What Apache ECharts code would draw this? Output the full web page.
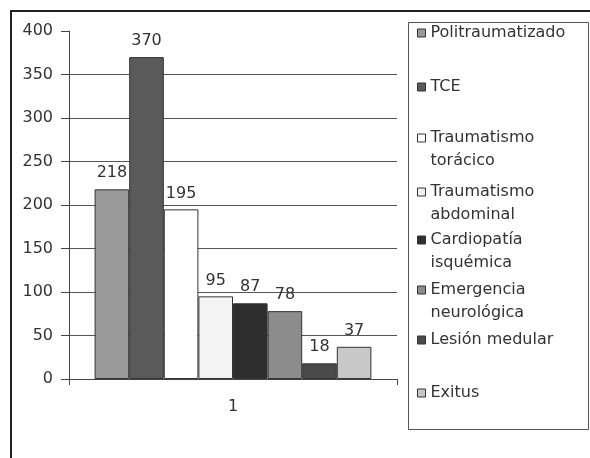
<!DOCTYPE html>
<html>
<head>
<meta charset="utf-8">
<script src="https://cdn.jsdelivr.net/npm/echarts@6/dist/echarts.min.js"></script>
<style>
  html, body { margin: 0; padding: 0; background: #fff; }
  #chart { width: 590px; height: 458px; }
</style>
</head>
<body>
<div id="chart"></div>
<script>
// Single category on the x axis
var categories = ['1'];

// One series per case type
var seriesNames = [
  'Politraumatizado',
  'TCE',
  'Traumatismo torácico',
  'Traumatismo abdominal',
  'Cardiopatía isquémica',
  'Emergencia neurológica',
  'Lesión medular',
  'Exitus'
];
var seriesValues = [218, 370, 195, 95, 87, 78, 18, 37];

// Legend wording, split where the text wraps
var legendLines = [
  ['Politraumatizado'],
  ['TCE'],
  ['Traumatismo', 'torácico'],
  ['Traumatismo', 'abdominal'],
  ['Cardiopatía', 'isquémica'],
  ['Emergencia', 'neurológica'],
  ['Lesión medular'],
  ['Exitus']
];

// Y axis ticks
var yTicks = [0, 50, 100, 150, 200, 250, 300, 350, 400];

// Fill greys for the bars
var fills = ['#9a9a9a', '#5a5a5a', '#ffffff', '#f3f3f3', '#2e2e2e', '#8c8c8c', '#4a4a4a', '#c8c8c8'];

// Vertical centre of each legend marker
var legendMarkerY = [33, 87, 138, 192, 240, 290, 340, 393];

var FONT = 'DejaVu Sans';
var TEXT = '#333333';
var FONT_SIZE = 16;
var LINE_H = 23;

var chart = echarts.init(document.getElementById('chart'), null, { renderer: 'canvas' });

var series = seriesNames.map(function (name, i) {
  return {
    name: name,
    type: 'bar',
    data: [seriesValues[i]],
    barWidth: 34.6,
    barGap: '0%',
    itemStyle: { color: fills[i], borderColor: '#333', borderWidth: 1 },
    label: {
      show: true,
      position: 'top',
      distance: 8,
      color: TEXT,
      fontFamily: FONT,
      fontSize: FONT_SIZE
    },
    emphasis: { disabled: true }
  };
});

// One legend per entry so each can sit at its own height.
// Wrapped entries get an empty leading line so that the first
// text line lines up with the marker (the text block is centred on it).
var legends = seriesNames.map(function (name, i) {
  var lines = legendLines[i];
  var twoLine = lines.length > 1;
  var text = twoLine ? ['', lines[0], lines[1]].join('\n') : lines[0];
  return {
    data: [name],
    orient: 'vertical',
    left: 417,
    top: legendMarkerY[i] - (twoLine ? LINE_H * 1.5 : LINE_H / 2),
    padding: 0,
    itemWidth: 8,
    itemHeight: 8,
    itemGap: 0,
    icon: 'rect',
    selectedMode: false,
    itemStyle: { borderColor: '#333', borderWidth: 1 },
    formatter: function () { return text; },
    textStyle: {
      fontFamily: FONT,
      fontSize: FONT_SIZE,
      color: TEXT,
      lineHeight: LINE_H
    }
  };
});

// Split lines every tick except the top one
var splitColors = yTicks.map(function (t, i) {
  return i === yTicks.length - 1 ? 'rgba(0,0,0,0)' : '#555555';
});

chart.setOption({
  animation: false,
  backgroundColor: '#ffffff',
  grid: { left: 69, right: 193, top: 31, bottom: 79, containLabel: false },
  legend: legends,
  xAxis: {
    type: 'category',
    data: categories,
    boundaryGap: true,
    axisLine: { show: true, lineStyle: { color: '#444', width: 1 } },
    axisTick: { show: true, length: 6, lineStyle: { color: '#444' } },
    axisLabel: { color: TEXT, fontFamily: FONT, fontSize: FONT_SIZE, margin: 20 }
  },
  yAxis: {
    type: 'value',
    min: yTicks[0],
    max: yTicks[yTicks.length - 1],
    interval: yTicks[1] - yTicks[0],
    axisLine: { show: true, lineStyle: { color: '#444', width: 1 } },
    axisTick: { show: true, length: 8, lineStyle: { color: '#444' } },
    axisLabel: { color: TEXT, fontFamily: FONT, fontSize: FONT_SIZE, margin: 16 },
    splitLine: { show: true, lineStyle: { color: splitColors, width: 1 } }
  },
  series: series,
  graphic: [
    // Outer frame (top and left edges)
    {
      type: 'polyline',
      silent: true,
      z: 100,
      shape: { points: [[11, 458], [11, 11], [591, 11]] },
      style: { stroke: '#222', lineWidth: 2, fill: null }
    },
    // Legend box
    {
      type: 'rect',
      silent: true,
      z: -1,
      shape: { x: 408.5, y: 22.5, width: 180, height: 407 },
      style: { stroke: '#555', lineWidth: 1, fill: '#fff' }
    }
  ]
});
</script>
</body>
</html>
